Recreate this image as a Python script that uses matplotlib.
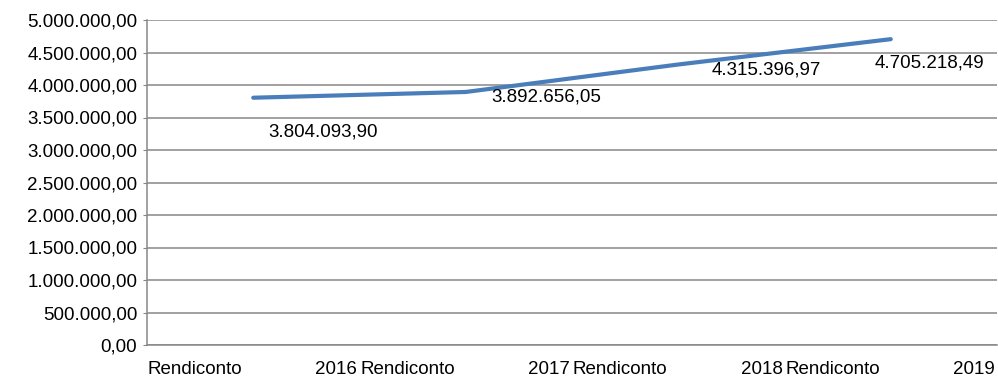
import matplotlib.pyplot as plt

# Rendiconto totals per year
years = ['2016', '2017', '2018', '2019']
values = [3804093.90, 3892656.05, 4315396.97, 4705218.49]
y_ticks = [0, 500000, 1000000, 1500000, 2000000, 2500000,
           3000000, 3500000, 4000000, 4500000, 5000000]


def it_format(v):
    # Italian style: dot for thousands, comma for decimals
    s = f"{v:,.2f}"
    return s.replace(',', 'X').replace('.', ',').replace('X', '.')


plt.rcParams['font.family'] = ['Liberation Sans', 'DejaVu Sans']
fs = 13.5

fig = plt.figure(figsize=(9.98, 3.83), dpi=100)
ax = fig.add_axes([147 / 998, 1 - 345 / 383, 850 / 998, 325 / 383])

x = list(range(len(values)))
ax.plot(x, values, color='#4A7EBB', linewidth=3.0, solid_capstyle='round')

# value labels, shifted in pixels from each point
label_offsets = [(70, -34), (81, -5), (88, -6), (39, -24)]
for xi, v, off in zip(x, values, label_offsets):
    ax.annotate(it_format(v), (xi, v), xytext=off, textcoords='offset pixels',
                ha='center', va='center', fontsize=fs, color='#000000')

ax.set_xlim(-0.5, len(values) - 0.5)
ax.set_ylim(0, 5000000)
ax.set_yticks(y_ticks)
ax.set_yticklabels([it_format(t) for t in y_ticks])
ax.tick_params(axis='y', labelsize=fs, length=3, color='#878787', pad=4,
               labelcolor='#000000')
ax.set_xticks([])
ax.grid(axis='y', color='#878787', linewidth=1.1)
ax.set_axisbelow(True)

for side in ['top', 'right']:
    ax.spines[side].set_visible(False)
for side in ['left', 'bottom']:
    ax.spines[side].set_color('#878787')
    ax.spines[side].set_linewidth(1.1)

# category labels spread across each category slot
trans = ax.get_xaxis_transform()
for xi, yr in zip(x, years):
    ax.text(xi - 0.497, -0.075, 'Rendiconto', transform=trans, ha='left',
            va='center', fontsize=fs)
    ax.text(xi + 0.49, -0.075, yr, transform=trans, ha='right',
            va='center', fontsize=fs)

fig.savefig('out.png', dpi=100)
